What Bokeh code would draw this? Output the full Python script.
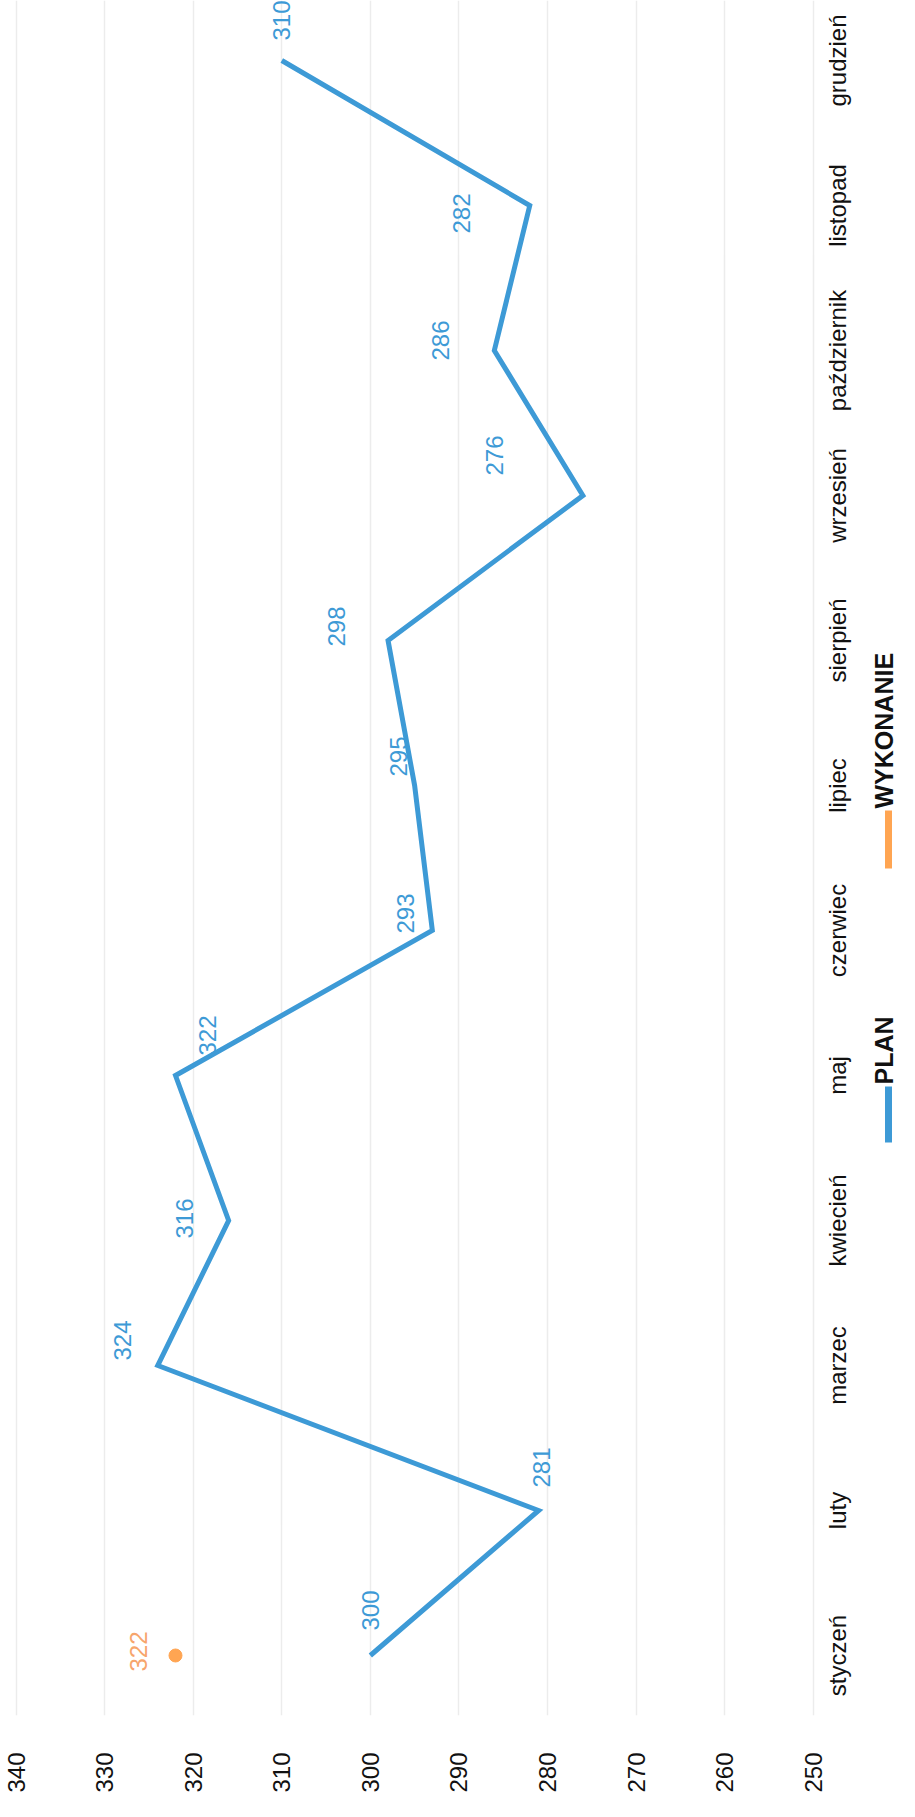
import math
from bokeh.plotting import figure
from bokeh.models import Range1d, FixedTicker, ColumnDataSource
from bokeh.core.properties import value
from bokeh.embed import file_html
from bokeh.resources import INLINE

# ---------------- data ----------------
months = ["styczeń", "luty", "marzec", "kwiecień", "maj", "czerwiec",
          "lipiec", "sierpień", "wrzesień", "październik", "listopad", "grudzień"]
plan = [300, 281, 324, 316, 322, 293, 295, 298, 276, 286, 282, 310]
wykonanie = [322, None, None, None, None, None, None, None, None, None, None, None]
series_names = ["PLAN", "WYKONANIE"]
value_ticks = [250, 260, 270, 280, 290, 300, 310, 320, 330, 340]

# label offsets (pixels) - placement of the value labels, kept apart from data
plan_label_dx = [0, 3, -35, -44, 32, -27, -16, -52, -88, -54, -68, 0]
plan_label_dy = [-45, -43, -25, -2, -40, -17, -29, -14, -40, -10, 8, -40]
wyk_label_dx = [-37]
wyk_label_dy = [-4]

# ---------------- styling ----------------
BLUE = "#3d9ad6"
ORANGE = "#ffa552"
ORANGE_TXT = "#f7a56c"
TXT = "#111111"
FONT = value("Liberation Sans")

# frame geometry (page px) and ranges
X0, FW = 8, 899
Y0, FH = 8, 1715
VL, VR = 341.76, 240.25
I_START, I_END = -0.4138, 11.4138

def v_at(px):
    return VL - (px - X0) / FW * (VL - VR)

def i_at(py):
    return I_END - (py - Y0) / FH * (I_END - I_START)

idx = list(range(len(months)))

p = figure(frame_width=FW, frame_height=FH,
           x_range=Range1d(VL, VR), y_range=Range1d(I_START, I_END),
           output_backend="svg", toolbar_location=None,
           y_axis_location=None, min_border=0,
           background_fill_color="white", border_fill_color="white",
           outline_line_color=None)

ax = p.xaxis[0]
ax.ticker = FixedTicker(ticks=value_ticks)
ax.major_label_orientation = math.pi / 2
ax.axis_line_color = None
ax.major_tick_line_color = None
ax.minor_tick_line_color = None
ax.major_tick_out = 0
ax.major_tick_in = 0
ax.major_label_standoff = 37
ax.major_label_text_font = "Liberation Sans"
ax.major_label_text_font_size = "24px"
ax.major_label_text_color = TXT

p.xgrid.ticker = FixedTicker(ticks=value_ticks)
p.xgrid.grid_line_color = "#ececec"
p.xgrid.grid_line_width = 1.5
p.ygrid.grid_line_color = None

# PLAN line
src_plan = ColumnDataSource(dict(v=plan, i=idx, t=[str(x) for x in plan],
                                 dx=plan_label_dx, dy=plan_label_dy))
p.line(x="v", y="i", source=src_plan, line_color=BLUE, line_width=5,
       line_join="miter")
p.text(x="v", y="i", text="t", source=src_plan, x_offset="dx", y_offset="dy",
       angle=math.pi / 2, text_align="center", text_baseline="middle",
       text_font=FONT, text_font_size="24px", text_color=BLUE)

# WYKONANIE points
wv = [w for w in wykonanie if w is not None]
wi = [i for i, w in zip(idx, wykonanie) if w is not None]
src_w = ColumnDataSource(dict(v=wv, i=wi, t=[str(x) for x in wv],
                              dx=wyk_label_dx, dy=wyk_label_dy))
p.scatter(x="v", y="i", source=src_w, size=13, fill_color=ORANGE,
          line_color=ORANGE)
p.text(x="v", y="i", text="t", source=src_w, x_offset="dx", y_offset="dy",
       angle=math.pi / 2, text_align="center", text_baseline="middle",
       text_font=FONT, text_font_size="24px", text_color=ORANGE_TXT)

# month labels (category axis drawn along the right side)
p.text(x=[v_at(845)] * len(months), y=idx, text=months,
       angle=math.pi / 2, text_align="center", text_baseline="middle",
       text_font=FONT, text_font_size="24px", text_color=TXT)

# legend
key_x = v_at(896)
p.segment(x0=[key_x, key_x], x1=[key_x, key_x],
          y0=[i_at(1150), i_at(876)], y1=[i_at(1094), i_at(818)],
          line_color=[BLUE, ORANGE], line_width=7)
p.text(x=[v_at(891), v_at(891)], y=[i_at(1092), i_at(816)], text=series_names,
       angle=math.pi / 2, text_align="left", text_baseline="middle",
       text_font=FONT, text_font_size="25px", text_font_style="bold",
       text_color=TXT)

open("out.html", "w").write(file_html(p, INLINE))
